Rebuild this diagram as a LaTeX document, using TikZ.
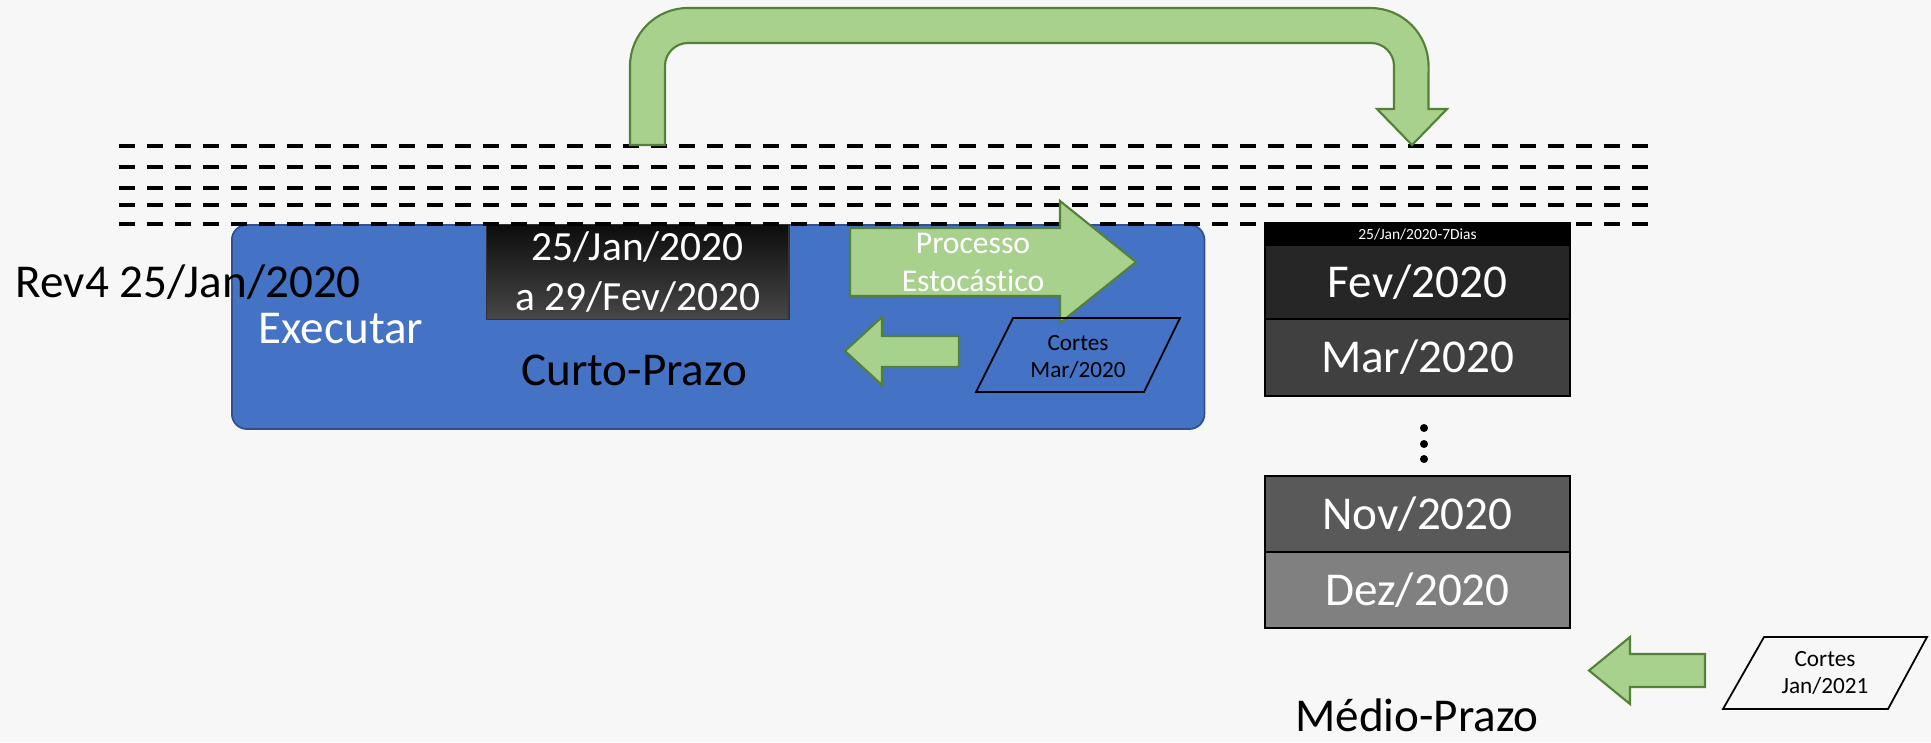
\documentclass[tikz,border=0pt]{standalone}
\usepackage{fontspec}
\setmainfont{Carlito}[Ligatures=NoCommon]
\usetikzlibrary{positioning}
\definecolor{fundo}{HTML}{F7F7F7}
\definecolor{azul}{HTML}{4472C4}
\definecolor{azulborda}{HTML}{2F528F}
\definecolor{verde}{HTML}{A9D18E}
\definecolor{verdeborda}{HTML}{538135}
\begin{document}
\begin{tikzpicture}[x=0.01cm, y=-0.01cm,
    grande/.style={font=\fontsize{13.4}{16}\selectfont},
    mes/.style={draw=black, line width=0.7pt, outer sep=0pt, minimum width=3.05cm, text=white, inner sep=0pt, font=\fontsize{13.4}{16}\selectfont},
    seta/.style={fill=verde, draw=verdeborda, line width=0.6pt, line join=miter},
    cortes/.style={align=center, inner sep=0pt, font=\fontsize{6.6}{7.8}\selectfont},
    corte/.style={draw=black, line width=0.5pt},
    tracejado/.style={line width=0.04cm, dash pattern=on 0.16cm off 0.12cm}]
  \fill[fundo] (0,0) rectangle (1931,742);
  \useasboundingbox (0,0) rectangle (1931,742);

  \node (curto) [draw=azulborda, fill=azul, line width=0.5pt, rounded corners=0.15cm, minimum width=9.72cm, minimum height=2.04cm, inner sep=0pt, anchor=north west] at (231,224) {};
  \node (periodo) [draw=black!80, top color=black!95, bottom color=black!72, minimum width=3.02cm, minimum height=0.95cm, inner sep=0pt, text=white, align=center, font=\fontsize{11.8}{14.2}\selectfont, anchor=north west] at (486,224) {25/Jan/2020\\a 29/Fev/2020};

  \node (cab) [mes, fill=black, minimum height=0.22cm, font=\fontsize{4.4}{5}\selectfont, anchor=north] at (1417.5,223) {25/Jan/2020-7Dias};
  \node (fev) [mes, fill=black!85, minimum height=0.74cm, below=0pt of cab] {Fev/2020};
  \node (mar) [mes, fill=black!75, minimum height=0.77cm, below=0pt of fev] {Mar/2020};
  \node (nov) [mes, fill=black!65, minimum height=0.76cm, anchor=north] at (1417.5,476) {Nov/2020};
  \node (dez) [mes, fill=black!50, minimum height=0.76cm, below=0pt of nov] {Dez/2020};
  \foreach \y in {428,444,459}
    \fill (1424,\y) circle (0.04cm);

  \foreach \y in {146,167,188,205,224}
    \draw[tracejado] (119,\y) -- (1648,\y);

  \draw[seta] (630,145) -- (630,66) arc[start angle=180, end angle=90, radius=0.58cm]
    -- (1370.5,8) arc[start angle=90, end angle=0, radius=0.58cm]
    -- (1428.5,109) -- (1447,109) -- (1412,145) -- (1377,109) -- (1394,109)
    -- (1394,66) arc[start angle=0, end angle=90, radius=0.23cm]
    -- (688,43) arc[start angle=90, end angle=180, radius=0.23cm]
    -- (665,145) -- cycle;

  \draw[seta] (850,228) -- (1060,228) -- (1060,201) -- (1136,262) -- (1060,323) -- (1060,296) -- (850,296) -- cycle;
  \node (proc) [text=white, align=center, font=\fontsize{9}{10.8}\selectfont] at (973,262) {Processo\\Estocástico};

  \draw[seta] (959,336) -- (882,336) -- (882,317) -- (845,351) -- (882,385) -- (882,367) -- (959,367) -- cycle;
  \draw[corte] (1013,318) -- (1180,318) -- (1144,392) -- (976,392) -- cycle;
  \node (cmar) [cortes] at (1078,357) {Cortes\\Mar/2020};

  \draw[seta] (1705,654) -- (1630,654) -- (1630,637) -- (1589,670.5) -- (1630,704) -- (1630,687) -- (1705,687) -- cycle;
  \draw[corte] (1764,637) -- (1927,637) -- (1888,709) -- (1723,709) -- cycle;
  \node (cjan) [cortes] at (1825,673) {Cortes\\Jan/2021};

  \node (rev) [grande, inner sep=0pt, anchor=base west] at (15,297) {Rev4 25/Jan/2020};
  \node (exec) [grande, text=white, inner sep=0pt, anchor=base west] at (258,343) {Executar};
  \node (ctxt) [grande, inner sep=0pt, anchor=base] at (634,385) {Curto-Prazo};
  \node (mtxt) [grande, inner sep=0pt, anchor=base] at (1417,731) {Médio-Prazo};
\end{tikzpicture}
\end{document}
